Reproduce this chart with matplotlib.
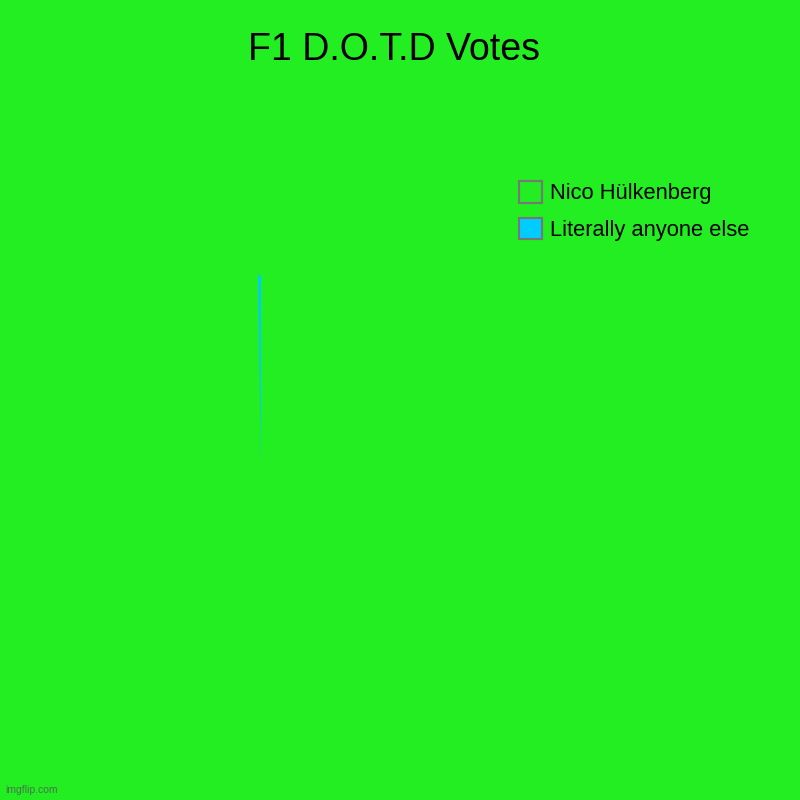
import matplotlib.pyplot as plt
from matplotlib.patches import Patch

# Data
labels = ["Nico Hülkenberg", "Literally anyone else"]
votes = [99.75, 0.25]
colors = ["#22ee22", "#00ccff"]

BG = "#22ee22"

plt.rcParams['font.family'] = ['Liberation Sans', 'DejaVu Sans']

fig = plt.figure(figsize=(8, 8), dpi=100, facecolor=BG)

# Pie centred near (261, 465) px, radius ~190 px
ax = fig.add_axes([0.08875, 0.18125, 0.475, 0.475])
ax.set_facecolor(BG)
wedges, _ = ax.pie(votes, colors=colors, startangle=90, counterclock=False,
                   radius=1.0, wedgeprops={'linewidth': 0, 'antialiased': True})
ax.set_xlim(-1, 1)
ax.set_ylim(-1, 1)
ax.set_aspect('equal')
ax.axis('off')

# Title
fig.text(0.4925, 0.938, "F1 D.O.T.D Votes", ha='center', va='center', fontsize=27, color='black')

# Legend
handles = [Patch(facecolor=w.get_facecolor(), edgecolor='#777777', linewidth=1.5) for w in wedges]
leg = fig.legend(handles, labels, loc='upper left', bbox_to_anchor=(0.649, 0.774),
                 frameon=False, fontsize=15.75, handlelength=1.05, handleheight=1.15,
                 handletextpad=0.35, labelspacing=0.62, borderpad=0, borderaxespad=0)

# Watermark
fig.text(0.006, 0.006, "imgflip.com", ha='left', va='bottom', fontsize=7.5, color='#555555', alpha=0.8)

fig.savefig("out.png", dpi=100, facecolor=BG)
